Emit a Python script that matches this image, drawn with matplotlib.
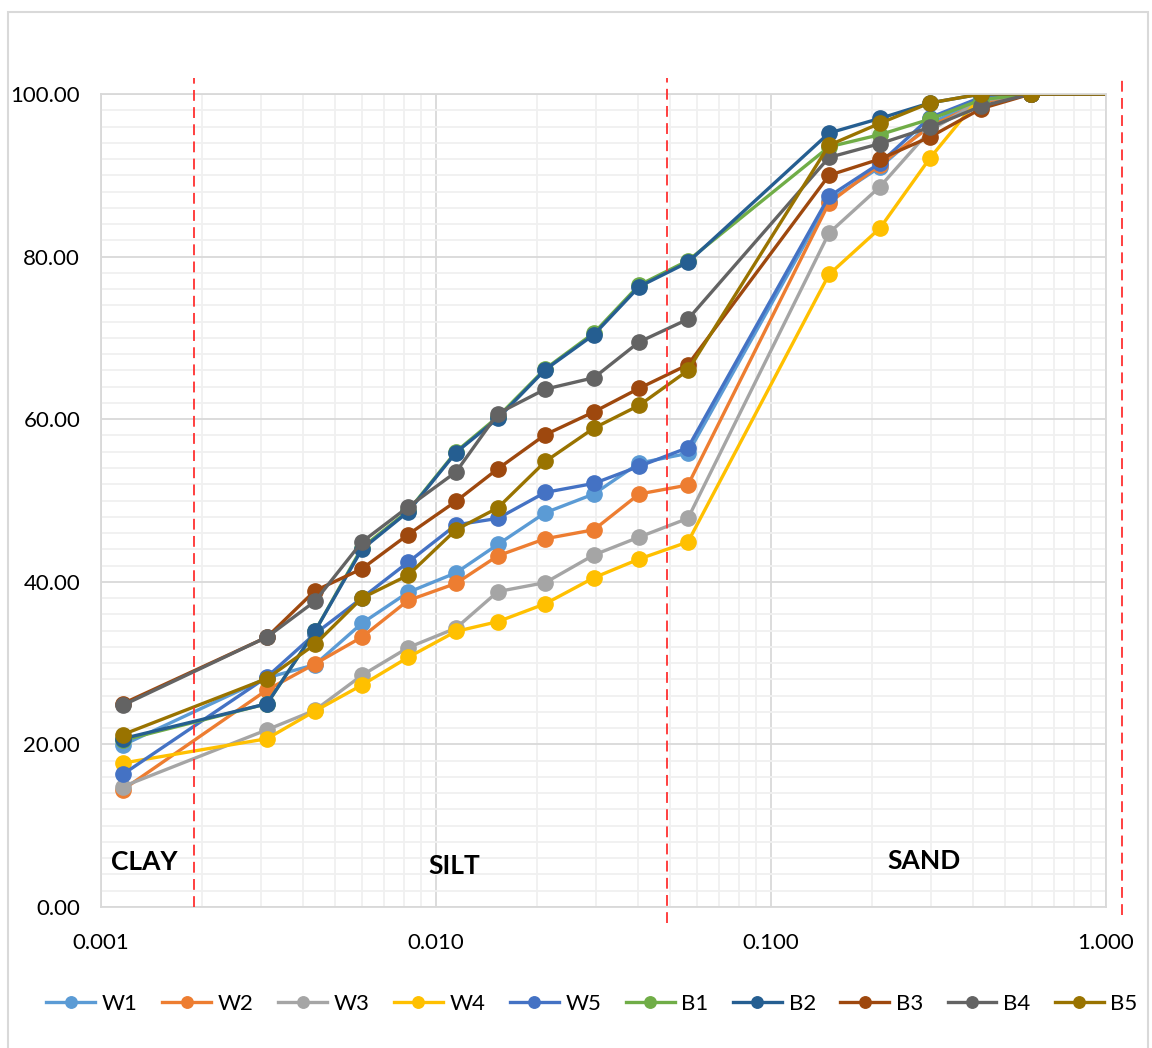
import matplotlib
matplotlib.use("Agg")
import matplotlib.pyplot as plt
from matplotlib.ticker import FixedLocator, FuncFormatter, MultipleLocator, NullFormatter
from matplotlib.patches import Rectangle

plt.rcParams['font.family'] = ['Lato', 'DejaVu Sans']

# Particle size (mm) for the hydrometer readings and the sieve sizes
size_mm = [0.00116, 0.00313, 0.00435, 0.00601, 0.00825, 0.01147, 0.0153, 0.0212,
           0.0296, 0.0404, 0.0565, 0.149, 0.2115, 0.298, 0.424, 0.597, 1.18]

# Percentage passing for each sample
W1 = [19.9, 28.2, 29.8, 34.9, 38.7, 41.1, 44.6, 48.5, 50.8, 54.6, 55.8, 86.9, 91.0, 96.3, 99.5, 100, 100]
W2 = [14.4, 26.7, 29.9, 33.2, 37.7, 39.8, 43.2, 45.3, 46.4, 50.8, 51.9, 86.6, 91.3, 96.0, 99.0, 100, 100]
W3 = [14.8, 21.8, 24.2, 28.5, 31.9, 34.3, 38.8, 39.9, 43.3, 45.5, 47.8, 82.9, 88.6, 95.5, 99.2, 100, 100]
W4 = [17.7, 20.7, 24.1, 27.3, 30.7, 33.9, 35.1, 37.3, 40.5, 42.8, 44.9, 77.8, 83.5, 92.1, 99.8, 100, 100]
W5 = [16.3, 28.3, 33.6, 38.0, 42.4, 47.0, 47.8, 51.0, 52.1, 54.2, 56.5, 87.4, 91.5, 97.1, 99.6, 100, 100]
B1 = [20.5, 25.0, 33.9, 44.2, 48.7, 56.0, 60.3, 66.2, 70.6, 76.5, 79.5, 93.5, 95.0, 96.9, 99.3, 100, 100]
B2 = [20.7, 25.0, 33.9, 44.0, 48.6, 55.9, 60.1, 66.1, 70.4, 76.3, 79.3, 95.2, 97.0, 98.9, 100, 100, 100]
B3 = [25.0, 33.2, 38.9, 41.6, 45.8, 49.9, 53.9, 58.1, 60.9, 63.8, 66.7, 90.0, 92.0, 94.7, 98.2, 100, 100]
B4 = [24.8, 33.2, 37.6, 44.9, 49.2, 53.5, 60.7, 63.7, 65.1, 69.5, 72.3, 92.2, 93.9, 95.9, 98.5, 100, 100]
B5 = [21.2, 28.1, 32.3, 38.0, 40.8, 46.4, 49.1, 54.8, 58.9, 61.7, 66.0, 93.7, 96.4, 98.9, 100, 100, 100]

series_names = ['W1', 'W2', 'W3', 'W4', 'W5', 'B1', 'B2', 'B3', 'B4', 'B5']
series_values = [W1, W2, W3, W4, W5, B1, B2, B3, B4, B5]
series_colors = ['#5B9BD5', '#ED7D31', '#A5A5A5', '#FFC000', '#4472C4',
                 '#70AD47', '#255E91', '#9E480E', '#636363', '#997300']

# Soil class boundaries (mm)
boundaries = [0.0019, 0.049, 1.12]
x_ticks = [0.001, 0.01, 0.1, 1.0]
y_ticks = [0, 20, 40, 60, 80, 100]

fig = plt.figure(figsize=(11.52, 10.48), dpi=100)
fig.patches.append(Rectangle((8 / 1152, -0.01), 1140 / 1152, 1 - 12 / 1048 + 0.01,
                             transform=fig.transFigure, fill=False,
                             edgecolor='#D9D9D9', linewidth=1.5))
ax = fig.add_axes([101 / 1152, 1 - 907 / 1048, 1005 / 1152, 813 / 1048])

for name, vals, col in zip(series_names, series_values, series_colors):
    ax.plot(size_mm, vals, color=col, lw=2.4, marker='o', ms=11,
            markeredgecolor=col, label=name, solid_joinstyle='round')

ax.set_xscale('log')
ax.set_xlim(0.001, 1.0)
ax.set_ylim(0, 100)

ax.xaxis.set_major_locator(FixedLocator(x_ticks))
ax.xaxis.set_major_formatter(FuncFormatter(lambda v, p: f'{v:.3f}'))
ax.xaxis.set_minor_formatter(NullFormatter())
ax.yaxis.set_major_locator(FixedLocator(y_ticks))
ax.yaxis.set_major_formatter(FuncFormatter(lambda v, p: f'{v:.2f}'))
ax.yaxis.set_minor_locator(MultipleLocator(2))

ax.grid(which='major', color='#D9D9D9', lw=1.3)
ax.grid(which='minor', color='#F0F0F0', lw=1.3)
ax.set_axisbelow(True)
for s in ax.spines.values():
    s.set_color('#D9D9D9')
    s.set_linewidth(1.3)
ax.tick_params(which='both', length=0)
ax.tick_params(axis='y', labelsize=16, pad=15)
ax.tick_params(axis='x', labelsize=16, pad=19)

# Class boundary lines, extending slightly past the plot frame
for xb, ybot in zip(boundaries, [0, -2.0, -1.0]):
    ax.plot([xb, xb], [ybot, 102], color='#FF3030', lw=1.3, ls=(0, (6, 3.5)),
            clip_on=False, zorder=5)

ax.text(0.00135, 5.5, 'CLAY', fontsize=19, fontweight='bold', ha='center', va='center')
ax.text(0.0113, 5.0, 'SILT', fontsize=19, fontweight='bold', ha='center', va='center')
ax.text(0.286, 5.7, 'SAND', fontsize=19, fontweight='bold', ha='center', va='center')

handles, labels = ax.get_legend_handles_labels()
fig.legend(handles, labels, loc='center', bbox_to_anchor=(592 / 1152, 1 - 1004 / 1048),
           ncol=10, frameon=False, fontsize=16, handlelength=2.2, columnspacing=1.1,
           handletextpad=0.3, markerscale=0.75)

fig.savefig('out.png', dpi=100, facecolor='white')
